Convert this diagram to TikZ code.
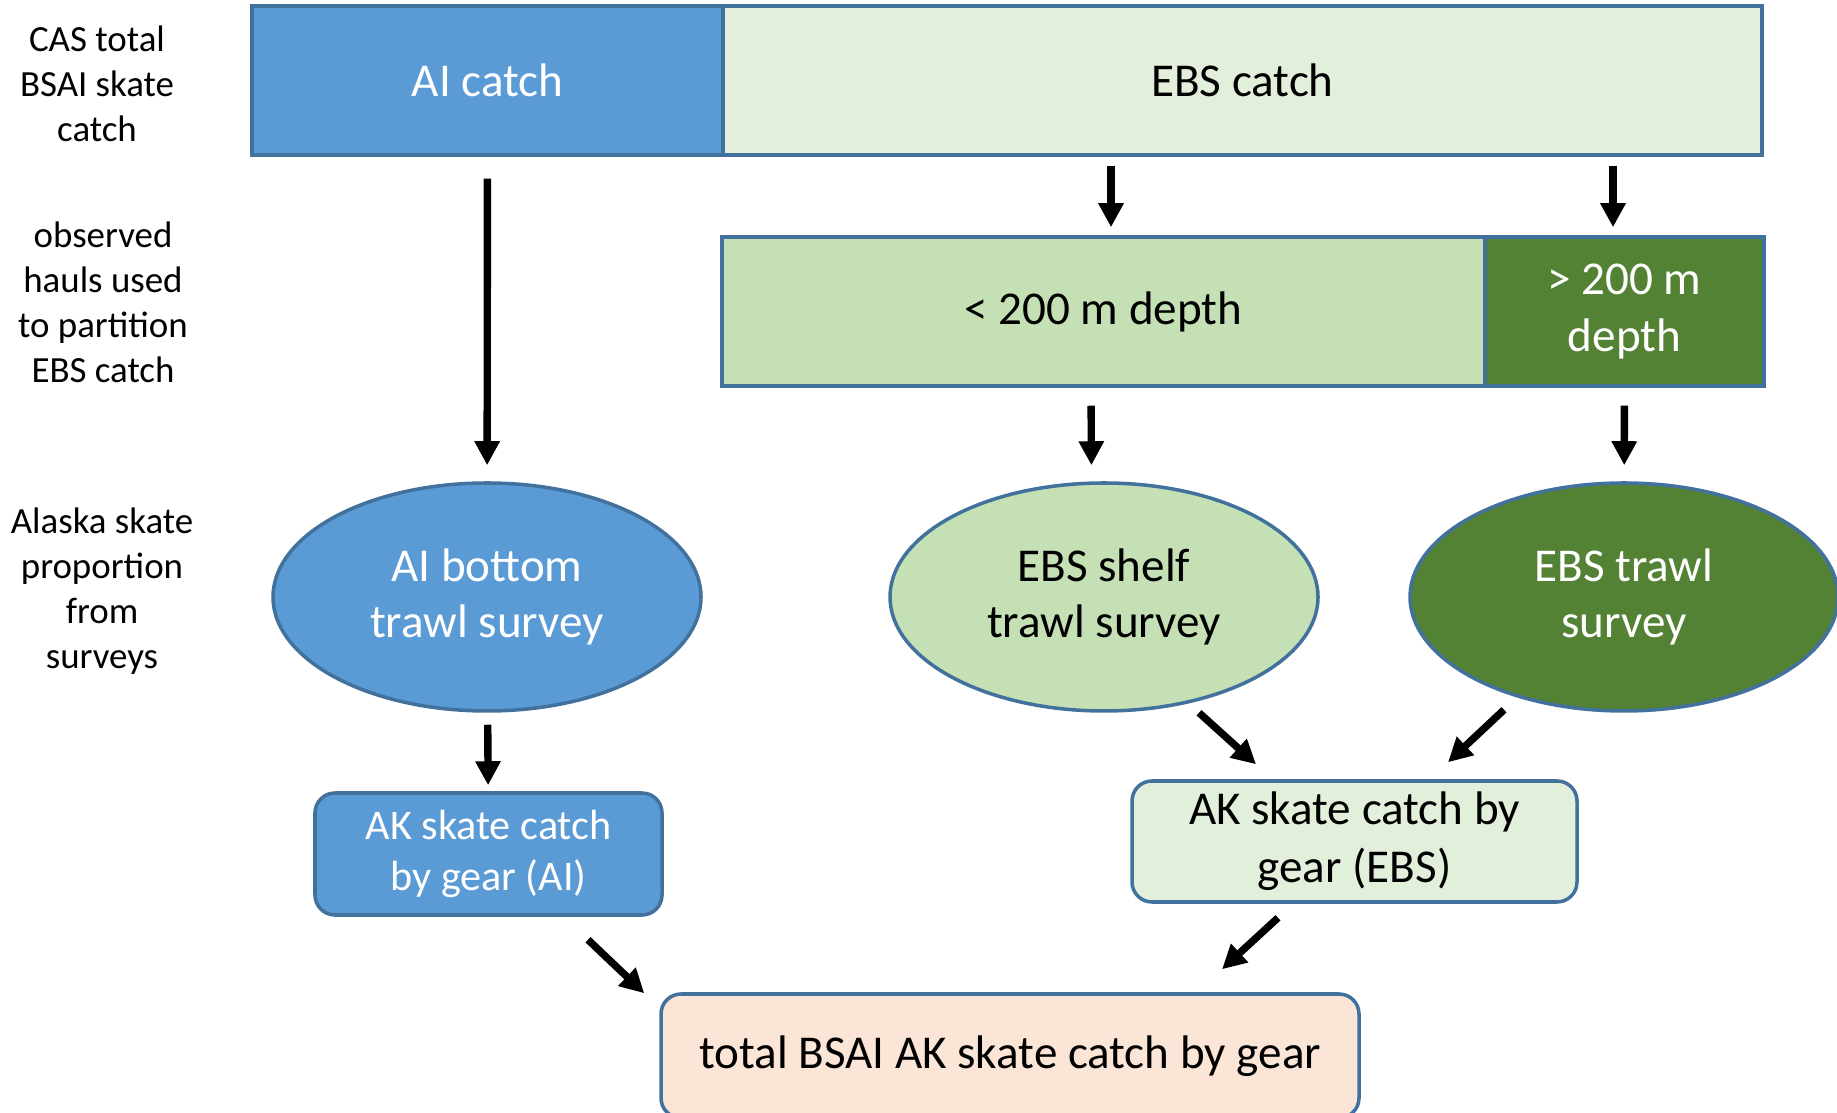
\documentclass[tikz,border=0pt]{standalone}
\usepackage{fontspec}
\setmainfont{Carlito}
\usetikzlibrary{shapes.geometric,arrows.meta}
\definecolor{aiblue}{HTML}{5B9BD5}
\definecolor{boxline}{HTML}{41719C}
\definecolor{ebspale}{HTML}{E2EFDA}
\definecolor{ebsshelf}{HTML}{C5E0B4}
\definecolor{ebsdeep}{HTML}{548235}
\definecolor{totalfill}{HTML}{FBE5D6}
\newcommand{\flowbox}[4][]{\node[draw=boxline,line width=1pt,align=center,inner sep=0pt,#1] at (#2) (#3) {#4}}

\begin{document}
\begin{tikzpicture}[
	bigtext/.style={font=\fontsize{13.4}{16}\selectfont},
	rowlabel/.style={align=center,font=\fontsize{10.5}{12.8}\selectfont},
	bar/.style={rectangle,minimum height=1.49cm},
	survey/.style={ellipse,minimum width=4.28cm,minimum height=2.28cm,bigtext},
	gearbox/.style={rectangle,rounded corners=0.2cm},
	flow/.style={-{Triangle[length=0.24cm,width=0.24cm]},line width=2.1pt}
	]
				\useasboundingbox (0,0) rectangle (18.37,11.12);
				\node[rowlabel] at (0.97,10.28) (caslabel) {CAS total\\BSAI skate\\catch};
				\node[rowlabel] at (1.03,8.10) (haullabel) {observed\\hauls used\\to partition\\EBS catch};
				\node[rowlabel] at (1.02,5.21) (surveylabel) {Alaska skate\\proportion\\from\\surveys};
				
				\flowbox[bar,bigtext,fill=aiblue,text=white,minimum width=4.71cm]{4.875,10.315}{aicatch}{AI catch};
				\flowbox[bar,bigtext,fill=ebspale,minimum width=10.39cm]{12.425,10.315}{ebscatch}{EBS catch};
				\flowbox[bar,bigtext,fill=ebsshelf,minimum width=7.63cm]{11.035,8.005}{shallow}{< 200 m depth};
				\flowbox[bar,fill=ebsdeep,text=white,minimum width=2.79cm,font=\fontsize{13.4}{16.2}\selectfont]{16.245,8.005}{deep}{> 200 m\\depth};
				
				\flowbox[survey,fill=aiblue,text=white]{4.87,5.15}{aisurvey}{AI bottom\\trawl survey};
				\flowbox[survey,fill=ebsshelf]{11.04,5.15}{shelf}{EBS shelf\\trawl survey};
				\flowbox[survey,fill=ebsdeep,text=white]{16.24,5.15}{trawl}{EBS trawl\\survey};
				
				\flowbox[gearbox,fill=aiblue,text=white,minimum width=3.47cm,minimum height=1.22cm,font=\fontsize{12}{14.5}\selectfont]{4.885,2.58}{aigear}{AK skate catch\\by gear (AI)};
				\flowbox[gearbox,fill=ebspale,minimum width=4.45cm,minimum height=1.21cm,font=\fontsize{13.4}{16.5}\selectfont]{13.545,2.705}{ebsgear}{AK skate catch by\\gear (EBS)};
				\flowbox[gearbox,bigtext,fill=totalfill,minimum width=6.98cm,minimum height=1.24cm]{10.1,0.56}{total}{total BSAI AK skate catch by gear};
				
				\draw[flow,shorten <=0.22cm,shorten >=0.16cm] (aicatch) -- (aisurvey);
				\draw[flow,shorten <=0.09cm,shorten >=0.08cm] ([xshift=0.75mm]ebscatch.south -| shallow.north) -- ([xshift=0.75mm]shallow.north);
				\draw[flow,shorten <=0.09cm,shorten >=0.08cm] ([xshift=-1.15mm]ebscatch.south -| deep.north) -- ([xshift=-1.15mm]deep.north);
				\draw[flow,shorten <=0.18cm,shorten >=0.16cm] ([xshift=-1.25mm]shallow.south) -- ([xshift=-1.25mm]shelf.north);
				\draw[flow,shorten <=0.18cm,shorten >=0.16cm] (deep) -- (trawl);
				\draw[flow,shorten <=0.12cm,shorten >=0.06cm] (aisurvey) -- (aigear);
				\draw[flow] ([xshift=9.5mm]shelf.south) -- ([xshift=-9.85mm,yshift=1.5mm]ebsgear.north);
				\draw[flow] ([xshift=-12mm,yshift=0.3mm]trawl.south) -- ([xshift=9.35mm,yshift=1.7mm]ebsgear.north);
				\draw[flow] ([xshift=9.95mm,yshift=-2.3mm]aigear.south) -- ([xshift=-1.5mm,yshift=-0.1mm]total.north west);
				\draw[flow] ([xshift=-7.65mm,yshift=-1.4mm]ebsgear.south) -- ([xshift=21.2mm,yshift=2.3mm]total.north);
				
				\end{tikzpicture}
\end{document}
